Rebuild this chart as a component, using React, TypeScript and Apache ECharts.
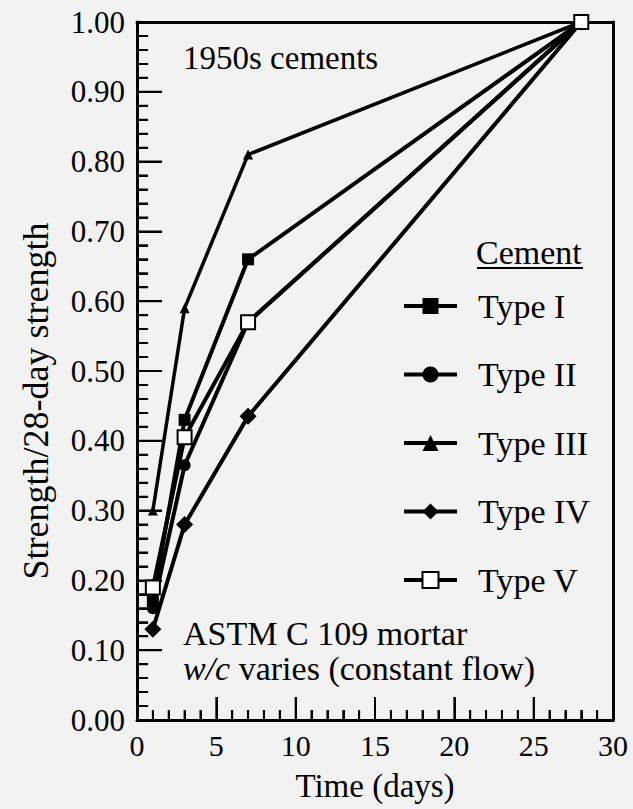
import React, { useEffect, useRef } from "react";
import * as echarts from "echarts";

const days = [1, 3, 7, 28];
const typeI = [0.17, 0.43, 0.66, 1.0];
const typeII = [0.16, 0.365, 0.57, 1.0];
const typeIII = [0.3, 0.59, 0.81, 1.0];
const typeIV = [0.13, 0.28, 0.435, 1.0];
const typeV = [0.19, 0.405, 0.57, 1.0];
const seriesNames = ["Type I", "Type II", "Type III", "Type IV", "Type V"];
const xMajorTicks = [0, 5, 10, 15, 20, 25, 30];
const yMajorTicks = [0, 0.1, 0.2, 0.3, 0.4, 0.5, 0.6, 0.7, 0.8, 0.9, 1.0];
const xMinorStep = 1;
const yMinorStep = 0.02;

const FONT = "'Liberation Serif', 'DejaVu Serif', serif";

// tick lengths expressed in the other axis' units (grid is 476 x 698 px)
const X_TICK_MAJOR = 0.033;
const X_TICK_MINOR = 0.0145;
const Y_TICK_MAJOR = 1.58;
const Y_TICK_MINOR = 0.7;

export default function App() {
  const ref = useRef<HTMLDivElement>(null);
  useEffect(() => {
    if (!ref.current) return;
    const chart = echarts.init(ref.current, null, { renderer: "svg" });
    const pair = (ys: number[]) => days.map((d, i) => [d, ys[i]]);
    const mk = (
      name: string,
      ys: number[],
      symbol: string,
      size: number,
      fill: string,
      lw: number
    ) => ({
      name,
      type: "line",
      xAxisIndex: 0,
      yAxisIndex: 0,
      data: pair(ys),
      symbol,
      symbolSize: size,
      showAllSymbol: true,
      lineStyle: { color: "#000", width: lw },
      itemStyle: { color: fill, borderColor: "#000", borderWidth: fill === "#000" ? 0 : 2 },
      emphasis: { disabled: true },
      z: 3,
    });

    // tick segments, separated by empty points
    const xTickData: any[] = [];
    const xMax = xMajorTicks[xMajorTicks.length - 1];
    for (let k = 0; k * xMinorStep <= xMax + 1e-9; k++) {
      const v = +(k * xMinorStep).toFixed(4);
      const len = xMajorTicks.includes(v) ? X_TICK_MAJOR : X_TICK_MINOR;
      xTickData.push([v, 0], [v, len], ["-", "-"]);
    }
    const yTickData: any[] = [];
    const yMax = yMajorTicks[yMajorTicks.length - 1];
    for (let k = 0; k * yMinorStep <= yMax + 1e-9; k++) {
      const v = +(k * yMinorStep).toFixed(4);
      const major = yMajorTicks.some((t) => Math.abs(t - v) < 1e-6);
      yTickData.push([0, v], [major ? Y_TICK_MAJOR : Y_TICK_MINOR, v], ["-", "-"]);
    }
    const tickSeries = (id: string, data: any[]) => ({
      id,
      type: "line",
      xAxisIndex: 0,
      yAxisIndex: 0,
      data,
      symbol: "none",
      connectNulls: false,
      clip: false,
      silent: true,
      lineStyle: { color: "#000", width: 2 },
      emphasis: { disabled: true },
      z: 2,
    });

    const frameAxis = {
      type: "value",
      min: 0,
      axisLine: { show: true, onZero: false, lineStyle: { color: "#000", width: 3 } },
      axisTick: { show: false },
      minorTick: { show: false },
      axisLabel: { show: false },
      splitLine: { show: false },
    };

    chart.setOption({
      animation: false,
      backgroundColor: "#f2f2f2",
      textStyle: { fontFamily: FONT, color: "#000" },
      grid: { left: 137, right: 20, top: 22, bottom: 89 },
      xAxis: [
        {
          type: "value",
          position: "bottom",
          min: 0,
          max: 30,
          interval: 5,
          name: "Time (days)",
          nameLocation: "middle",
          nameGap: 49,
          nameTextStyle: { fontSize: 33, fontFamily: FONT, color: "#000" },
          axisLine: { show: true, lineStyle: { color: "#000", width: 3 } },
          axisTick: { show: true, inside: true, length: 23, lineStyle: { color: "#000", width: 2 } },
          minorTick: { show: true, splitNumber: 5, length: 10, lineStyle: { color: "#000", width: 2 } },
          axisLabel: {
            fontSize: 30,
            fontFamily: FONT,
            color: "#000",
            margin: 10,
            formatter: (v: number) => String(v),
          },
          splitLine: { show: false },
        },
        { ...frameAxis, position: "top", max: 30 },
      ],
      yAxis: [
        {
          type: "value",
          position: "left",
          min: 0,
          max: 1,
          interval: 0.1,
          axisLine: { show: true, lineStyle: { color: "#000", width: 3 } },
          axisTick: { show: true, inside: true, length: 25, lineStyle: { color: "#000", width: 2 } },
          minorTick: { show: true, splitNumber: 5, length: 11, lineStyle: { color: "#000", width: 2 } },
          axisLabel: {
            fontSize: 31,
            fontFamily: FONT,
            color: "#000",
            margin: 12,
            formatter: (v: number) => v.toFixed(2),
          },
          splitLine: { show: false },
        },
        { ...frameAxis, position: "right", max: 1 },
      ],
      legend: {
        orient: "vertical",
        left: 397,
        top: 284,
        itemWidth: 53,
        itemHeight: 20,
        itemGap: 34.5,
        selectedMode: false,
        data: seriesNames.map((n) => ({ name: n, lineStyle: { width: 4 } })),
        textStyle: { fontSize: 34, fontFamily: FONT, color: "#000", lineHeight: 32, padding: [0, 0, 0, 16] },
      },
      graphic: [
        {
          type: "text",
          left: 183,
          top: 41,
          style: { text: "1950s cements", font: `33px ${FONT}`, fill: "#000" },
        },
        {
          type: "text",
          left: 476,
          top: 235,
          style: { text: "Cement", font: `34px ${FONT}`, fill: "#000" },
        },
        {
          type: "line",
          shape: { x1: 477, y1: 268, x2: 583, y2: 268 },
          style: { stroke: "#000", lineWidth: 2 },
        },
        {
          type: "text",
          left: 183,
          top: 616,
          style: { text: "ASTM C 109 mortar", font: `34px ${FONT}`, fill: "#000" },
        },
        {
          type: "text",
          left: 183,
          top: 651,
          style: {
            text: "{i|w/c} varies (constant flow)",
            font: `34px ${FONT}`,
            fill: "#000",
            rich: { i: { fontStyle: "italic", fontSize: 34, fontFamily: FONT } },
          },
        },
        {
          type: "text",
          x: 36,
          y: 401,
          rotation: Math.PI / 2,
          style: {
            text: "Strength/28-day strength",
            font: `36px ${FONT}`,
            fill: "#000",
            align: "center",
            verticalAlign: "middle",
          },
        },
      ],
      series: [
        tickSeries("xticks", xTickData),
        tickSeries("yticks", yTickData),
        mk("Type I", typeI, "rect", 12, "#000", 4),
        mk("Type II", typeII, "circle", 12, "#000", 4),
        mk("Type III", typeIII, "triangle", 10, "#000", 3.5),
        mk("Type IV", typeIV, "diamond", 17, "#000", 4),
        mk("Type V", typeV, "rect", 14, "#fff", 4),
      ],
    });

    return () => chart.dispose();
  }, []);
  return (
    <div
      ref={ref}
      style={{ position: "fixed", left: 0, top: 0, width: 633, height: 809, background: "#f2f2f2" }}
    />
  );
}
